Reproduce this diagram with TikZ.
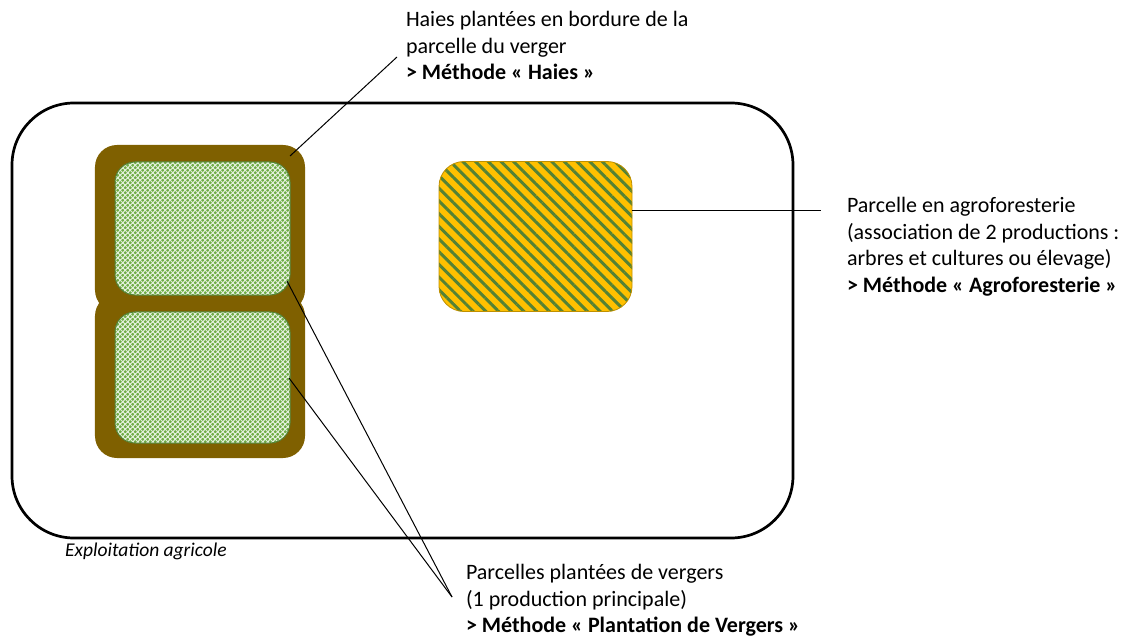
\documentclass[tikz,border=0pt]{standalone}
\usepackage{fontspec}
\setmainfont{Carlito}
\usetikzlibrary{patterns,patterns.meta}
\definecolor{hedgebrown}{RGB}{127,96,0}
\definecolor{orchardgreen}{RGB}{112,173,71}
\definecolor{orchardbase}{RGB}{226,239,218}
\definecolor{orchardedge}{RGB}{84,130,53}
\definecolor{agroyellow}{RGB}{255,192,0}
\definecolor{agrostripe}{RGB}{84,130,53}
\definecolor{agroedge}{RGB}{191,144,0}
\pgfdeclarepatternformonly{greendots}{\pgfqpoint{0pt}{0pt}}{\pgfqpoint{5pt}{5pt}}{\pgfqpoint{5pt}{5pt}}{%
  \pgfpathcircle{\pgfqpoint{1.25pt}{1.25pt}}{1.6pt}%
  \pgfpathcircle{\pgfqpoint{3.75pt}{3.75pt}}{1.6pt}%
  \pgfusepath{fill}}
\begin{document}
\begin{tikzpicture}[x=1bp,y=-1bp,
  lbl/.style={anchor=north west,inner sep=0pt,outer sep=0pt,align=left,font=\fontsize{22bp}{26.8bp}\selectfont},
  leader/.style={draw=black,line width=1bp},
  frame/.style={draw=black,line width=2.7bp,rounded corners=62bp},
  hedgebox/.style={fill=hedgebrown,rounded corners=22bp,inner sep=0pt,outer sep=0pt},
  orchardbox/.style={preaction={fill=orchardbase},pattern=greendots,pattern color=orchardgreen,draw=orchardedge,line width=1bp,rounded corners=20bp,inner sep=0pt,outer sep=0pt},
  agrobox/.style={preaction={fill=agroyellow},pattern={Lines[angle=-45,distance=9pt,line width=3pt]},pattern color=agrostripe,draw=agroedge,line width=0.8bp,rounded corners=25bp,inner sep=0pt,outer sep=0pt}]
\useasboundingbox (0,0) rectangle (1129,637);
% farm
\draw[frame] (12,103) rectangle (793,538);
% hedges
\node[hedgebox,minimum width=210bp,minimum height=167bp] (hedgeA) at (200,228.5) {};
\node[hedgebox,minimum width=210bp,minimum height=164bp] (hedgeB) at (200,376) {};
% orchards
\node[orchardbox,minimum width=175bp,minimum height=133bp] (orchA) at (202.5,228.5) {};
\node[orchardbox,minimum width=175bp,minimum height=131bp] (orchB) at (202.5,377.5) {};
% agroforestry
\node[agrobox,minimum width=193bp,minimum height=150bp] (agro) at (535.5,236.5) {};
% texts
\node[lbl] (thaies) at (406,11) {Haies plantées en bordure de la\\parcelle du verger\\\textbf{> Méthode « Haies »}};
\node[lbl] (tagro) at (847,197) {Parcelle en agroforesterie\\(association de 2 productions :\\arbres et cultures ou élevage)\\\textbf{> Méthode « Agroforesterie »}};
\node[lbl] (tverg) at (466,564) {Parcelles plantées de vergers\\(1 production principale)\\\textbf{> Méthode « Plantation de Vergers »}};
\node[anchor=north west,inner sep=0pt,font=\fontsize{19.5bp}{23bp}\selectfont\itshape] (tfarm) at (65,543) {Exploitation agricole};
% leaders
\coordinate (hA) at (290,156);
\coordinate (hB) at (397,57);
\coordinate (aA) at (632,211);
\coordinate (aB) at (821,211);
\coordinate (vA) at (287,281);
\coordinate (vB) at (289,378);
\coordinate (vC) at (452,597);
\draw[leader] (hA) -- (hB);
\draw[leader] (aA) -- (aB);
\draw[leader] (vA) -- (vC);
\draw[leader] (vB) -- (vC);
\end{tikzpicture}
\end{document}
